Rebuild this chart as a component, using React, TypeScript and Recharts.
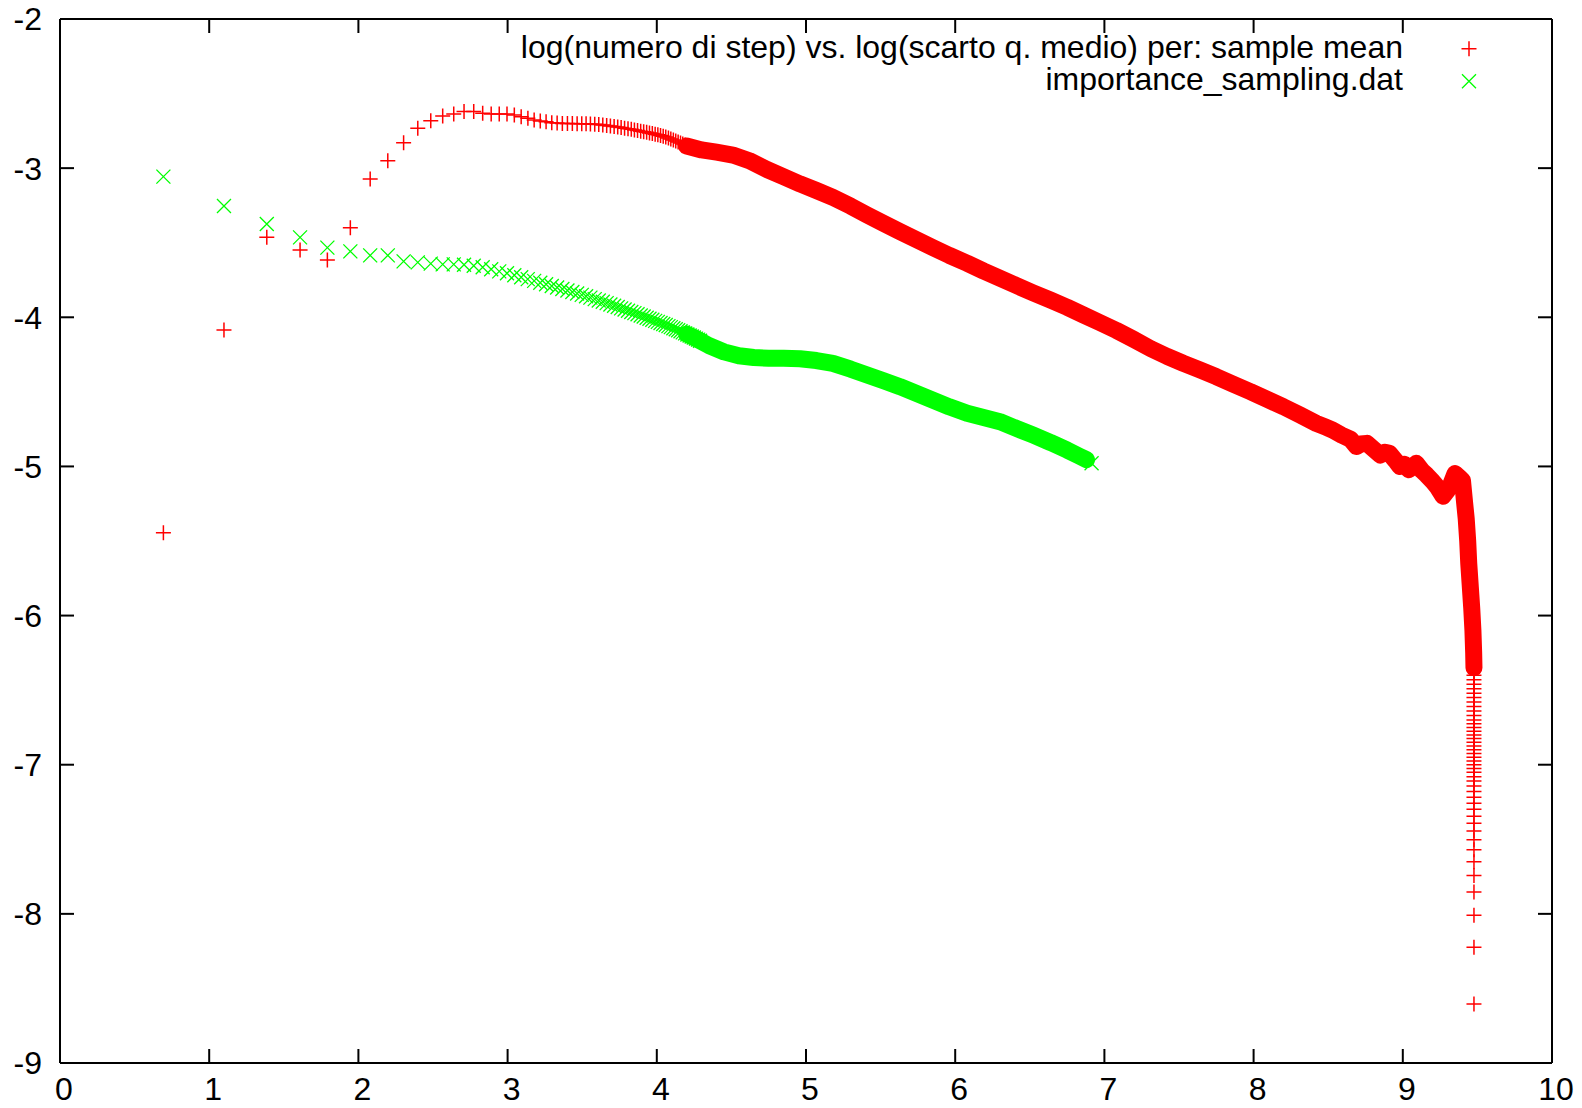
import React from 'react';
import { ScatterChart, Scatter, XAxis, YAxis, Legend } from 'recharts';

const RED = '#ff0000';
const GREEN = '#00ff00';
const FONT = '"Liberation Sans", Arial, Helvetica, sans-serif';

const xTicks = [0, 1, 2, 3, 4, 5, 6, 7, 8, 9, 10];
const yTicks = [-9, -8, -7, -6, -5, -4, -3, -2];

const seriesNames = [
  'log(numero di step) vs. log(scarto q. medio) per: sample mean',
  'importance_sampling.dat',
];

// sample mean: well separated points
const sampleMeanSparse: [number, number][] = [
  [0.693, -5.444], [1.099, -4.085], [1.386, -3.464], [1.609, -3.549], [1.792, -3.616],
  [1.946, -3.399], [2.079, -3.073], [2.197, -2.95], [2.303, -2.829], [2.398, -2.733],
  [2.485, -2.682], [2.565, -2.65], [2.639, -2.637], [2.708, -2.621], [2.773, -2.621],
  [2.833, -2.632], [2.89, -2.637], [2.944, -2.637], [2.996, -2.637], [3.045, -2.644],
  [3.091, -2.655], [3.136, -2.666], [3.178, -2.677], [3.219, -2.684], [3.258, -2.689],
  [3.296, -2.695],
];

// sample mean: points that start to overlap
const sampleMeanCrowded: [number, number][] = [
  [3.332, -2.698], [3.367, -2.7], [3.401, -2.701], [3.434, -2.701], [3.466, -2.702],
  [3.497, -2.702], [3.526, -2.703], [3.555, -2.704], [3.584, -2.706], [3.611, -2.708],
  [3.638, -2.711], [3.664, -2.714], [3.689, -2.717], [3.714, -2.72], [3.738, -2.724],
  [3.761, -2.728], [3.784, -2.732], [3.807, -2.736], [3.829, -2.74], [3.85, -2.744],
  [3.871, -2.748], [3.892, -2.752], [3.912, -2.756], [3.932, -2.76], [3.951, -2.764],
  [3.97, -2.768], [3.989, -2.772], [4.007, -2.776], [4.025, -2.781], [4.043, -2.786],
  [4.06, -2.792], [4.078, -2.798], [4.094, -2.804], [4.111, -2.811], [4.127, -2.818],
  [4.143, -2.825], [4.159, -2.832], [4.174, -2.838], [4.19, -2.844], [4.205, -2.85],
  [4.22, -2.855], [4.234, -2.86], [4.248, -2.864], [4.263, -2.868], [4.277, -2.872],
  [4.29, -2.876],
];

// sample mean: solid band of points
const sampleMeanBand: [number, number][] = [
  [4.2, -2.852], [4.3, -2.878], [4.4, -2.893], [4.51, -2.912], [4.62, -2.95], [4.74, -3.01],
  [4.85, -3.058], [4.96, -3.106], [5.07, -3.15], [5.18, -3.196], [5.3, -3.255],
  [5.41, -3.314], [5.52, -3.37], [5.63, -3.426], [5.74, -3.48], [5.85, -3.533],
  [5.96, -3.585], [6.08, -3.638], [6.19, -3.69], [6.3, -3.739], [6.41, -3.787],
  [6.52, -3.835], [6.64, -3.885], [6.75, -3.933], [6.86, -3.985], [6.97, -4.036],
  [7.08, -4.088], [7.19, -4.145], [7.31, -4.21], [7.42, -4.262], [7.53, -4.309],
  [7.64, -4.353], [7.75, -4.398], [7.86, -4.447], [7.98, -4.499], [8.09, -4.55],
  [8.2, -4.6], [8.31, -4.655], [8.42, -4.711], [8.48, -4.735], [8.53, -4.756],
  [8.59, -4.79], [8.65, -4.818], [8.69, -4.866], [8.72, -4.85], [8.76, -4.845],
  [8.8, -4.88], [8.85, -4.923], [8.88, -4.905], [8.91, -4.912], [8.95, -4.96],
  [8.98, -5.0], [9.01, -4.985], [9.04, -5.022], [9.07, -5.0], [9.09, -4.979],
  [9.13, -5.03], [9.16, -5.058], [9.2, -5.1], [9.23, -5.136], [9.27, -5.2],
  [9.3, -5.16], [9.32, -5.125], [9.35, -5.048], [9.38, -5.075], [9.4, -5.095],
  [9.415, -5.25], [9.425, -5.35], [9.435, -5.5], [9.442, -5.65], [9.452, -5.8],
  [9.462, -5.95], [9.47, -6.1], [9.475, -6.25], [9.477, -6.35],
];

// sample mean: final drop
const sampleMeanTail: [number, number][] = [
  [9.477, -6.4], [9.477, -6.43], [9.477, -6.46], [9.477, -6.49], [9.477, -6.52],
  [9.477, -6.55], [9.477, -6.58], [9.477, -6.61], [9.477, -6.64], [9.477, -6.67],
  [9.477, -6.7], [9.477, -6.725], [9.477, -6.75], [9.477, -6.775], [9.477, -6.8],
  [9.477, -6.825], [9.477, -6.85], [9.477, -6.875], [9.477, -6.9], [9.477, -6.925],
  [9.477, -6.95], [9.477, -6.975], [9.477, -7.0], [9.477, -7.025], [9.477, -7.05],
  [9.477, -7.08], [9.477, -7.109], [9.477, -7.142], [9.477, -7.179], [9.477, -7.218],
  [9.477, -7.258], [9.477, -7.299], [9.477, -7.345], [9.477, -7.392], [9.477, -7.445],
  [9.477, -7.503], [9.477, -7.57], [9.477, -7.65], [9.477, -7.743], [9.477, -7.854],
  [9.477, -8.009], [9.477, -8.224], [9.477, -8.605],
];

// importance sampling: well separated points
const importanceSparse: [number, number][] = [
  [0.693, -3.057], [1.099, -3.254], [1.386, -3.375], [1.609, -3.464], [1.792, -3.533],
  [1.946, -3.558], [2.079, -3.585], [2.197, -3.585], [2.303, -3.625], [2.398, -3.632],
  [2.485, -3.64], [2.565, -3.645], [2.639, -3.645], [2.708, -3.648], [2.773, -3.655],
  [2.833, -3.665], [2.89, -3.678], [2.944, -3.692], [2.996, -3.705], [3.045, -3.718],
  [3.091, -3.732],
];

// importance sampling: overlapping points
const importanceCrowded: [number, number][] = [
  [3.135, -3.744], [3.178, -3.756], [3.219, -3.768], [3.258, -3.779], [3.296, -3.79],
  [3.332, -3.8], [3.367, -3.81], [3.401, -3.82], [3.434, -3.83], [3.466, -3.84],
  [3.497, -3.85], [3.526, -3.859], [3.555, -3.868], [3.584, -3.878], [3.611, -3.887],
  [3.638, -3.896], [3.664, -3.905], [3.689, -3.914], [3.714, -3.923], [3.738, -3.931],
  [3.761, -3.94], [3.784, -3.948], [3.807, -3.956], [3.829, -3.964], [3.85, -3.972],
  [3.871, -3.98], [3.892, -3.988], [3.912, -3.995], [3.932, -4.003], [3.951, -4.01],
  [3.97, -4.017], [3.989, -4.024], [4.007, -4.031], [4.025, -4.038], [4.043, -4.045],
  [4.06, -4.052], [4.078, -4.059], [4.094, -4.066], [4.111, -4.073], [4.127, -4.08],
  [4.143, -4.087], [4.159, -4.094], [4.174, -4.101], [4.19, -4.108], [4.205, -4.115],
  [4.22, -4.122], [4.234, -4.129], [4.248, -4.136], [4.263, -4.143], [4.277, -4.15],
  [4.29, -4.157],
];

// importance sampling: solid band
const importanceBand: [number, number][] = [
  [4.2, -4.112], [4.28, -4.152], [4.35, -4.19], [4.45, -4.232], [4.55, -4.258], [4.65, -4.27],
  [4.75, -4.274], [4.85, -4.274], [4.96, -4.278], [5.07, -4.29], [5.18, -4.309],
  [5.3, -4.348], [5.41, -4.387], [5.52, -4.425], [5.63, -4.465], [5.74, -4.51],
  [5.85, -4.555], [5.96, -4.6], [6.08, -4.644], [6.19, -4.672], [6.3, -4.7],
  [6.41, -4.745], [6.52, -4.789], [6.64, -4.84], [6.75, -4.89], [6.83, -4.93],
  [6.88, -4.955],
];

const importanceEnd: [number, number][] = [[6.914, -4.979]];

const toPoints = (arr: [number, number][]) => arr.map(([x, y]) => ({ x, y }));

const PlusShape = (props: any) => {
  const { cx, cy } = props;
  if (cx == null || cy == null) return <g />;
  return (
    <path
      d={`M${cx - 7.5},${cy}H${cx + 7.5}M${cx},${cy - 7.5}V${cy + 7.5}`}
      stroke={RED}
      strokeWidth={1.5}
      fill="none"
    />
  );
};

const CrossShape = (props: any) => {
  const { cx, cy } = props;
  if (cx == null || cy == null) return <g />;
  return (
    <path
      d={`M${cx - 7},${cy - 7}L${cx + 7},${cy + 7}M${cx - 7},${cy + 7}L${cx + 7},${cy - 7}`}
      stroke={GREEN}
      strokeWidth={1.3}
      fill="none"
    />
  );
};

const NoShape = () => <g />;

const BottomTick = (props: any) => {
  const { x, y, payload } = props;
  return (
    <g>
      <line x1={x} x2={x} y1={y} y2={y - 14} stroke="#000" strokeWidth={2} />
      <text x={x + 4} y={y + 37} textAnchor="middle" fontFamily={FONT} fontSize={32} fill="#000">
        {payload.value}
      </text>
    </g>
  );
};

const TopTick = (props: any) => {
  const { x, y } = props;
  return <line x1={x} x2={x} y1={y} y2={y + 14} stroke="#000" strokeWidth={2} />;
};

const LeftTick = (props: any) => {
  const { x, y, payload } = props;
  return (
    <g>
      <line x1={x} x2={x + 14} y1={y} y2={y} stroke="#000" strokeWidth={2} />
      <text x={x - 18} y={y} dy="0.358em" textAnchor="end" fontFamily={FONT} fontSize={32} fill="#000">
        {payload.value}
      </text>
    </g>
  );
};

const RightTick = (props: any) => {
  const { x, y } = props;
  return <line x1={x} x2={x - 14} y1={y} y2={y} stroke="#000" strokeWidth={2} />;
};

const LegendContent = (props: any) => {
  const items = ((props.payload || []) as any[]).filter((it) => seriesNames.indexOf(it.value) >= 0);
  return (
    <svg width={1582} height={100} style={{ display: 'block' }}>
      {items.map((it) => {
        const row = seriesNames.indexOf(it.value);
        const base = 57.6 + row * 32.4;
        const cy = base - 8.8;
        const cx = 1469;
        const isPlus = row === 0;
        return (
          <g key={row}>
            <text x={1403} y={base} textAnchor="end" fontFamily={FONT} fontSize={32} fill="#000">
              {it.value}
            </text>
            {isPlus ? (
              <path d={`M${cx - 7.5},${cy}H${cx + 7.5}M${cx},${cy - 7.5}V${cy + 7.5}`} stroke={it.color} strokeWidth={1.5} fill="none" />
            ) : (
              <path d={`M${cx - 7},${cy - 7}L${cx + 7},${cy + 7}M${cx - 7},${cy + 7}L${cx + 7},${cy - 7}`} stroke={it.color} strokeWidth={1.3} fill="none" />
            )}
          </g>
        );
      })}
    </svg>
  );
};

const axisLine = { stroke: '#000', strokeWidth: 2 };

export default function App() {
  return (
    <div style={{ position: 'absolute', left: 0, top: 0, width: 1582, height: 1108, background: '#fff' }}>
      <ScatterChart width={1582} height={1108} margin={{ top: 18, right: 29, bottom: 0, left: 0 }}>
        <XAxis
          type="number"
          dataKey="x"
          domain={[0, 10]}
          ticks={xTicks}
          interval={0}
          allowDataOverflow
          height={45}
          tickSize={0}
          tickMargin={0}
          tickLine={false}
          axisLine={axisLine}
          tick={BottomTick}
        />
        <XAxis
          xAxisId="top"
          orientation="top"
          type="number"
          dataKey="x"
          domain={[0, 10]}
          ticks={xTicks}
          interval={0}
          allowDataOverflow
          height={1}
          tickSize={0}
          tickMargin={0}
          tickLine={false}
          axisLine={axisLine}
          tick={TopTick}
        />
        <YAxis
          type="number"
          dataKey="y"
          domain={[-9, -2]}
          ticks={yTicks}
          interval={0}
          allowDataOverflow
          width={60}
          tickSize={0}
          tickMargin={0}
          tickLine={false}
          axisLine={axisLine}
          tick={LeftTick}
        />
        <YAxis
          yAxisId="right"
          orientation="right"
          type="number"
          dataKey="y"
          domain={[-9, -2]}
          ticks={yTicks}
          interval={0}
          allowDataOverflow
          width={1}
          tickSize={0}
          tickMargin={0}
          tickLine={false}
          axisLine={axisLine}
          tick={RightTick}
        />
        <Legend
          layout="vertical"
          align="center"
          verticalAlign="middle"
          content={LegendContent}
          wrapperStyle={{ top: 0, left: 0, width: 1582, height: 100 }}
        />
        {/* invisible series bound to the mirrored top/right axes so they are drawn */}
        <Scatter
          xAxisId="top"
          yAxisId="right"
          data={toPoints(sampleMeanSparse)}
          fill="none"
          shape={NoShape}
          legendType="none"
          isAnimationActive={false}
        />
        <Scatter
          name={seriesNames[0]}
          data={toPoints(sampleMeanSparse)}
          fill={RED}
          shape={PlusShape}
          isAnimationActive={false}
        />
        <Scatter data={toPoints(sampleMeanCrowded)} fill={RED} shape={PlusShape} legendType="none" isAnimationActive={false} />
        <Scatter
          data={toPoints(sampleMeanBand)}
          fill={RED}
          shape={NoShape}
          line={{ stroke: RED, strokeWidth: 17, strokeLinejoin: 'round', strokeLinecap: 'round' }}
          lineType="joint"
          legendType="none"
          isAnimationActive={false}
        />
        <Scatter data={toPoints(sampleMeanTail)} fill={RED} shape={PlusShape} legendType="none" isAnimationActive={false} />
        <Scatter
          name={seriesNames[1]}
          data={toPoints(importanceSparse)}
          fill={GREEN}
          shape={CrossShape}
          isAnimationActive={false}
        />
        <Scatter data={toPoints(importanceCrowded)} fill={GREEN} shape={CrossShape} legendType="none" isAnimationActive={false} />
        <Scatter
          data={toPoints(importanceBand)}
          fill={GREEN}
          shape={NoShape}
          line={{ stroke: GREEN, strokeWidth: 17, strokeLinejoin: 'round', strokeLinecap: 'round' }}
          lineType="joint"
          legendType="none"
          isAnimationActive={false}
        />
        <Scatter data={toPoints(importanceEnd)} fill={GREEN} shape={CrossShape} legendType="none" isAnimationActive={false} />
      </ScatterChart>
    </div>
  );
}
